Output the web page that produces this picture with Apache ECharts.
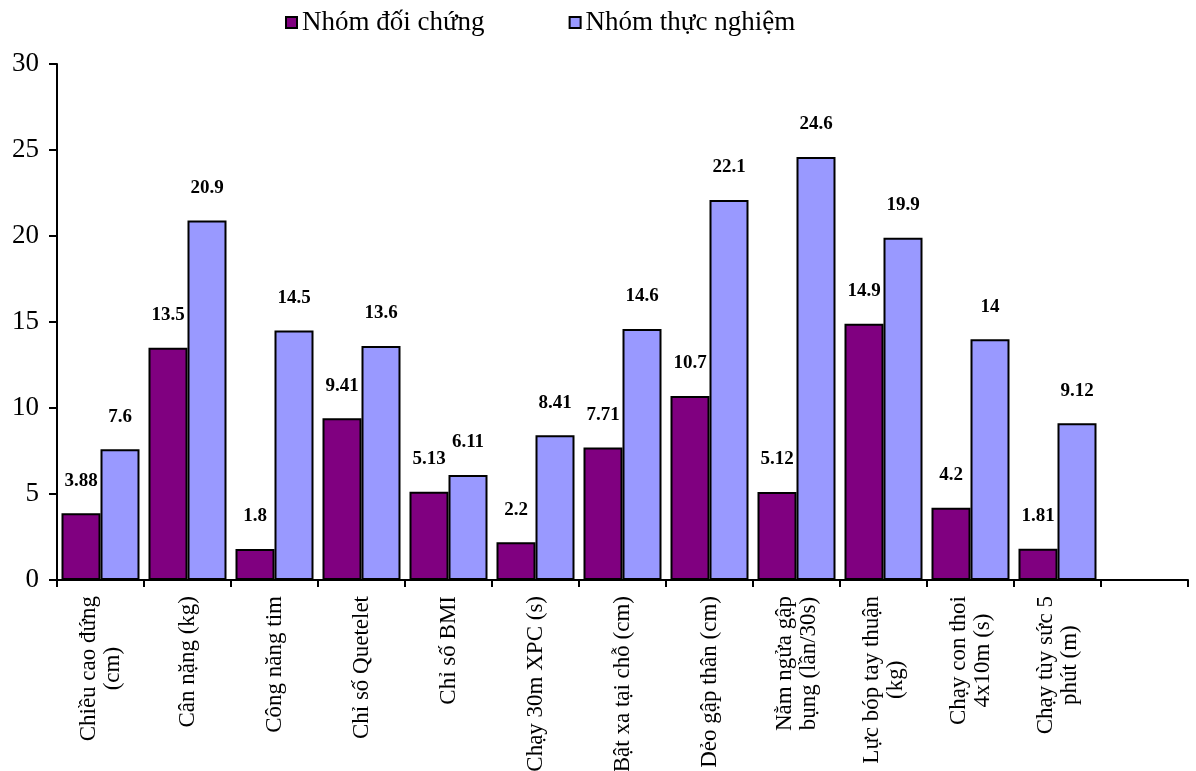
<!DOCTYPE html>
<html>
<head>
<meta charset="utf-8">
<script src="https://cdn.jsdelivr.net/npm/echarts@6/dist/echarts.min.js"></script>
<style>
    html, body { margin: 0; padding: 0; background: #fff; }
    #chart { width: 1196px; height: 771px; }
</style>
</head>
<body>
<div id="chart"></div>
<script>
    // dữ liệu
    var categories = [
        'Chiều cao đứng\n(cm)',
        'Cân nặng (kg)',
        'Công năng tim',
        'Chỉ số Quetelet',
        'Chỉ số BMI',
        'Chạy 30m XPC (s)',
        'Bật xa tại chỗ (cm)',
        'Dẻo gập thân (cm)',
        'Nằm ngửa gập\nbụng (lần/30s)',
        'Lực bóp tay thuận\n(kg)',
        'Chạy con thoi\n4x10m (s)',
        'Chạy tùy sức 5\nphút (m)',
        ''
    ];
    var doiChung = [3.88, 13.5, 1.8, 9.41, 5.13, 2.2, 7.71, 10.7, 5.12, 14.9, 4.2, 1.81, null];
    var thucNghiem = [7.6, 20.9, 14.5, 13.6, 6.11, 8.41, 14.6, 22.1, 24.6, 19.9, 14, 9.12, null];
    var seriesNames = ['Nhóm đối chứng', 'Nhóm thực nghiệm'];

    var font = '"Liberation Serif", "Times New Roman", serif';
    var chart = echarts.init(document.getElementById('chart'));

    var valueLabel = {
        show: true,
        position: 'top',
        distance: 23,
        fontFamily: font,
        fontWeight: 'bold',
        fontSize: 19,
        color: '#000'
    };

    chart.setOption({
        animation: false,
        backgroundColor: '#fff',
        legend: {
            left: 280,
            top: 4,
            itemGap: 84,
            itemWidth: 11,
            itemHeight: 11,
            icon: 'rect',
            textStyle: { fontFamily: font, fontSize: 27, color: '#000' },
            data: seriesNames
        },
        grid: { left: 57, right: 8, top: 64, bottom: 191, outerBoundsMode: 'none', containLabel: false },
        xAxis: {
            type: 'category',
            data: categories,
            axisLine: { lineStyle: { color: '#000', width: 2 } },
            axisTick: { show: true, interval: 0, length: 7, lineStyle: { color: '#000', width: 2 } },
            axisLabel: {
                rotate: 90,
                interval: 0,
                margin: 16,
                color: '#000',
                fontFamily: font,
                fontSize: 23,
                formatter: function (v) {
                    if (!v) return '';
                    return v.split('\n').map(function (s) { return '{c|' + s + '}'; }).join('\n');
                },
                rich: {
                    c: { align: 'center', fontFamily: font, fontSize: 23, color: '#000', lineHeight: 24 }
                }
            }
        },
        yAxis: {
            type: 'value',
            min: 0,
            max: 30,
            interval: 5,
            splitLine: { show: false },
            axisLine: { show: true, lineStyle: { color: '#000', width: 2 } },
            axisTick: { show: true, length: 8, lineStyle: { color: '#000', width: 2 } },
            axisLabel: { margin: 18, color: '#000', fontFamily: font, fontSize: 27 }
        },
        series: [{
            name: seriesNames[0],
            type: 'bar',
            data: doiChung,
            barWidth: 39,
            barGap: '0%',
            itemStyle: { color: '#800080', borderColor: '#000', borderWidth: 2 },
            label: valueLabel
        }, {
            name: seriesNames[1],
            type: 'bar',
            data: thucNghiem,
            barWidth: 39,
            itemStyle: { color: '#9999FF', borderColor: '#000', borderWidth: 2 },
            label: valueLabel
        }]
    });
</script>
</body>
</html>
